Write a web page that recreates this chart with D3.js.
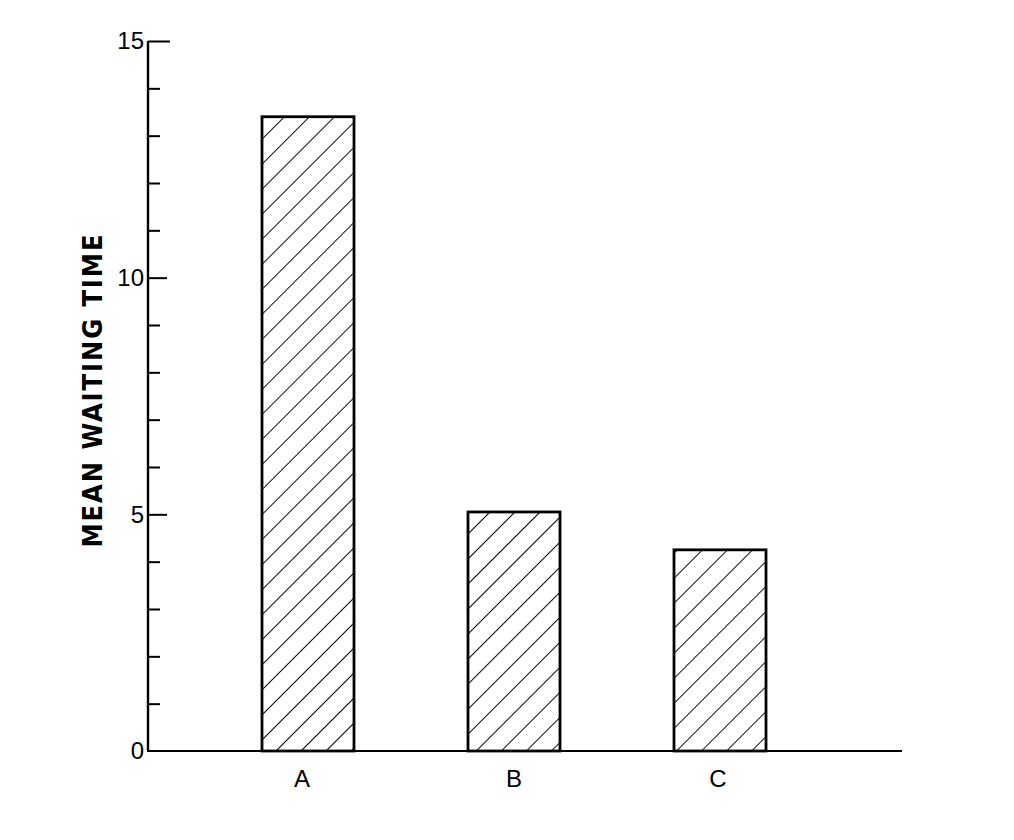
<!DOCTYPE html>
<html><head><meta charset="utf-8">
<script src="https://cdn.jsdelivr.net/npm/d3@7"></script>
<style>body{margin:0;background:#fff}</style>
</head><body>
<svg id="chart" width="1014" height="840"></svg>
<script>
const categories = ["A", "B", "C"];
const values = [13.4, 5.05, 4.25];
const yTicks = [0,1,2,3,4,5,6,7,8,9,10,11,12,13,14,15];
const yLabels = [0, 5, 10, 15];
const yTitle = "MEAN WAITING TIME";

const svg = d3.select("#chart");
const x0 = 148, xEnd = 902, yBase = 751, yTop = 41;
const y = d3.scaleLinear().domain([0, 15]).range([yBase, yTop]);
const x = d3.scaleBand().domain(categories).range([262, 766]).paddingInner(0.5534).paddingOuter(0);

const defs = svg.append("defs");
const pat = defs.append("pattern").attr("id","hatch").attr("patternUnits","userSpaceOnUse")
  .attr("width",17.7).attr("height",17.7).attr("patternTransform","rotate(45)");
pat.append("line").attr("x1",0).attr("y1",-2).attr("x2",0).attr("y2",20)
  .attr("stroke","#000").attr("stroke-width",1.9);

// bars
svg.selectAll("rect.bar").data(values).join("rect").attr("class","bar")
  .attr("x",(d,i)=>x(categories[i])).attr("width",x.bandwidth())
  .attr("y",d=>y(d)).attr("height",d=>yBase-y(d))
  .attr("fill","url(#hatch)").attr("stroke","#000").attr("stroke-width",2.8);

// y axis
const axis = d3.axisLeft(y).tickValues(yTicks).tickSize(-12).tickPadding(4)
  .tickFormat(d => yLabels.includes(d) ? d : "");
const g = svg.append("g").attr("transform",`translate(${x0},0)`).call(axis);
g.select(".domain").remove();
g.selectAll(".tick line").attr("stroke","#000").attr("stroke-width",2)
  .attr("x2", d => d===15 ? 22 : (d%5===0 ? 19 : 12));
g.selectAll(".tick").filter(d=>d===0).select("line").remove();
g.selectAll(".tick text").attr("font-family","Liberation Sans, Arial").attr("font-size",24).attr("fill","#000");
svg.append("line").attr("x1",x0).attr("x2",x0).attr("y1",yTop).attr("y2",yBase)
  .attr("stroke","#000").attr("stroke-width",2.4);

// x axis
svg.append("line").attr("x1",x0-1).attr("x2",xEnd).attr("y1",yBase).attr("y2",yBase)
  .attr("stroke","#000").attr("stroke-width",2);
svg.selectAll("text.cat").data(categories).join("text").attr("class","cat")
  .attr("x",d=>x(d)+x.bandwidth()/2 - (d==="A"?6:(d==="C"?2:0))).attr("y",787)
  .attr("text-anchor","middle").attr("font-family","Liberation Sans, Arial").attr("font-size",24)
  .text(d=>d);

// y title
svg.append("text").attr("transform",`translate(102,391) rotate(-90)`)
  .attr("text-anchor","middle")
  .attr("font-family","'Liberation Sans Narrow', 'DejaVu Sans Condensed', sans-serif")
  .attr("font-weight","bold").attr("font-size",27)
  .attr("textLength",313).attr("lengthAdjust","spacing").text(yTitle);
</script>
</body></html>
